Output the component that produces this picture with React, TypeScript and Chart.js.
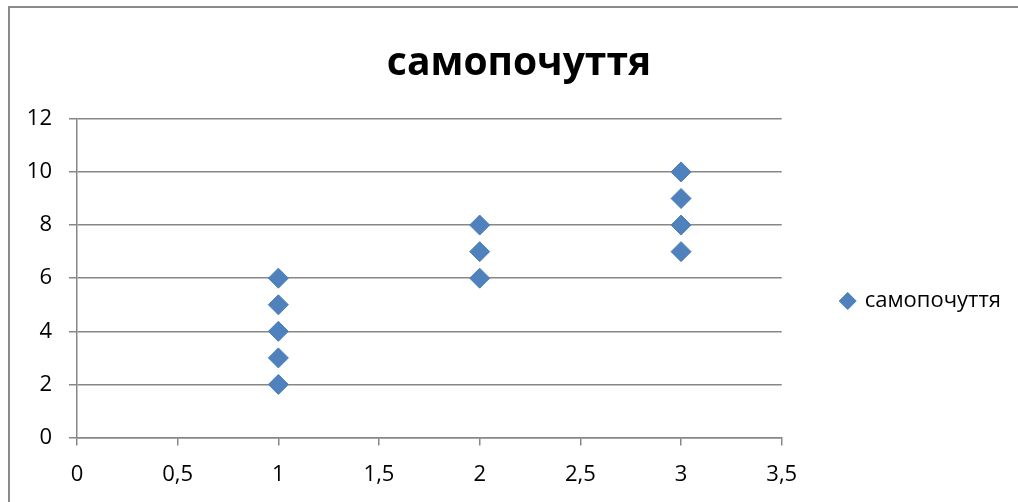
import React, { useEffect, useRef } from "react";
import { Chart, registerables } from "chart.js";

Chart.register(...registerables);

const seriesName = "самопочуття";
const chartTitle = "самопочуття";
const xValues = [1, 1, 1, 1, 1, 2, 2, 2, 3, 3, 3, 3];
const yValues = [2, 3, 4, 5, 6, 6, 7, 8, 7, 8, 9, 10];
const xMin = 0;
const xMax = 3.5;
const xStep = 0.5;
const yMin = 0;
const yMax = 12;
const yStep = 2;

const FONT = "'Open Sans', 'Noto Sans', sans-serif";
const GRID = "#878787";

const borderPlugin = {
  id: "outerBorder",
  beforeDraw(chart: any) {
    const ctx = chart.ctx;
    ctx.save();
    ctx.fillStyle = "#ffffff";
    ctx.fillRect(0, 0, chart.width, chart.height);
    ctx.strokeStyle = "#8a8a8a";
    ctx.lineWidth = 2;
    ctx.beginPath();
    ctx.moveTo(9, chart.height + 2);
    ctx.lineTo(9, 7);
    ctx.lineTo(chart.width + 2, 7);
    ctx.stroke();
    ctx.restore();
  },
};

export default function App() {
  const ref = useRef<HTMLCanvasElement | null>(null);

  useEffect(() => {
    if (!ref.current) return;
    const points = xValues.map((x, i) => ({ x, y: yValues[i] }));
    const chart = new Chart(ref.current, {
      type: "scatter",
      data: {
        datasets: [
          {
            label: seriesName,
            data: points,
            pointStyle: "rectRot",
            pointRadius: 10,
            pointHoverRadius: 10,
            backgroundColor: "#4F81BD",
            borderColor: "#4A7EBB",
            borderWidth: 1,
          },
        ],
      },
      options: {
        responsive: false,
        animation: false,
        layout: {
          padding: { left: 27, right: 7, top: 40, bottom: -2 },
        },
        plugins: {
          tooltip: { enabled: false },
          title: {
            display: true,
            text: chartTitle,
            color: "#000000",
            font: { family: FONT, size: 39, weight: "bold" },
            padding: { top: 0, bottom: 32 },
          },
          legend: {
            display: true,
            position: "right",
            title: {
              display: true,
              text: "",
              font: { family: FONT, size: 10 },
              padding: { top: 0, bottom: 46 },
            },
            labels: {
              usePointStyle: true,
              pointStyle: "rectRot",
              boxWidth: 12,
              boxHeight: 12,
              padding: 60,
              color: "#000000",
              font: { family: FONT, size: 22 },
            },
          },
        },
        scales: {
          x: {
            type: "linear",
            min: xMin,
            max: xMax,
            ticks: {
              stepSize: xStep,
              color: "#000000",
              font: { family: FONT, size: 22 },
              padding: 16,
              maxRotation: 0,
              callback: (v: any) => String(v).replace(".", ","),
            },
            grid: {
              drawOnChartArea: false,
              drawTicks: true,
              tickLength: 8,
              color: GRID,
              lineWidth: 1.5,
            },
            border: { color: GRID, width: 1.5 },
          },
          y: {
            type: "linear",
            min: yMin,
            max: yMax,
            afterFit: (scale: any) => {
              scale.width = 50;
            },
            ticks: {
              stepSize: yStep,
              color: "#000000",
              font: { family: FONT, size: 22 },
              padding: 17,
            },
            grid: {
              drawOnChartArea: true,
              drawTicks: true,
              tickLength: 8,
              color: GRID,
              lineWidth: 1.5,
            },
            border: { color: GRID, width: 1.5 },
          },
        },
      },
      plugins: [borderPlugin],
    } as any);
    return () => chart.destroy();
  }, []);

  return (
    <div style={{ position: "fixed", left: 0, top: 0, width: 1018, height: 502, background: "#fff" }}>
      <canvas ref={ref} width={1018} height={502} style={{ display: "block", width: 1018, height: 502 }} />
    </div>
  );
}
